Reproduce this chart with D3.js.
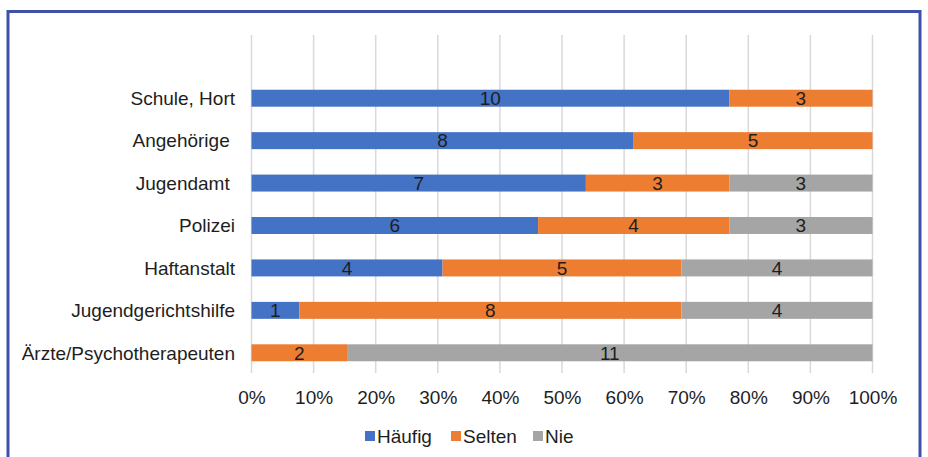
<!DOCTYPE html>
<html>
<head>
<meta charset="utf-8">
<script src="https://cdn.jsdelivr.net/npm/d3@7"></script>
<style>
  body { margin: 0; background: #fff; }
  svg text { font-family: "Liberation Sans", Arial, Helvetica, sans-serif; fill: #1e1e1e; }
</style>
</head>
<body>
<svg id="chart" width="928" height="457"></svg>
<script>
// categories, top to bottom (trailing spaces as in the original)
var categories = ['Schule, Hort', 'Angehörige ', 'Jugendamt ', 'Polizei', 'Haftanstalt', 'Jugendgerichtshilfe', 'Ärzte/Psychotherapeuten'];
var haeufig = [10, 8, 7, 6, 4, 1, 0];
var selten = [3, 5, 3, 4, 5, 8, 2];
var nie = [0, 0, 3, 3, 4, 4, 11];
var seriesNames = ['Häufig', 'Selten', 'Nie'];
var seriesColors = ['#4472c4', '#ed7d31', '#a5a5a5'];
var tickValues = [0, 0.1, 0.2, 0.3, 0.4, 0.5, 0.6, 0.7, 0.8, 0.9, 1];

var svg = d3.select('#chart');

// frame
svg.append('path')
  .attr('d', 'M8,470 L8,11.5 L920,11.5 L920,470')
  .attr('fill', 'none')
  .attr('stroke', '#3d52a6')
  .attr('stroke-width', 3);

var x = d3.scaleLinear().domain([0, 1]).range([251.5, 872.5]);
var y = d3.scaleBand().domain(categories).range([77, 374]).paddingInner(0.6).paddingOuter(0.3);

// rows for the stack
var rows = categories.map(function(c, i) {
  var total = haeufig[i] + selten[i] + nie[i];
  return { cat: c, 'Häufig': haeufig[i] / total, 'Selten': selten[i] / total, 'Nie': nie[i] / total,
           counts: [haeufig[i], selten[i], nie[i]] };
});
var stacked = d3.stack().keys(seriesNames)(rows);

// gridlines
svg.append('g')
  .selectAll('line')
  .data(tickValues)
  .join('line')
  .attr('x1', d => x(d)).attr('x2', d => x(d))
  .attr('y1', 35).attr('y2', 373)
  .attr('stroke', '#d9d9d9')
  .attr('stroke-width', 1.5);

// bars
var layers = svg.append('g')
  .selectAll('g')
  .data(stacked)
  .join('g')
  .attr('fill', (d, i) => seriesColors[i]);

layers.selectAll('rect')
  .data(d => d)
  .join('rect')
  .attr('x', d => x(d[0]))
  .attr('width', d => x(d[1]) - x(d[0]))
  .attr('y', d => y(d.data.cat))
  .attr('height', y.bandwidth());

// value labels
layers.each(function(layer, si) {
  d3.select(this).selectAll('text')
    .data(layer.filter(d => d.data.counts[si] > 0))
    .join('text')
    .attr('x', d => (x(d[0]) + x(d[1])) / 2)
    .attr('y', d => y(d.data.cat) + y.bandwidth() / 2)
    .attr('dy', '0.36em')
    .attr('text-anchor', 'middle')
    .style('font-size', '19px')
    .text(d => d.data.counts[si]);
});

// category labels
svg.append('g')
  .selectAll('text')
  .data(categories)
  .join('text')
  .attr('x', 235)
  .attr('y', d => y(d) + y.bandwidth() / 2)
  .attr('dy', '0.36em')
  .attr('text-anchor', 'end')
  .attr('xml:space', 'preserve')
  .style('white-space', 'pre')
  .style('font-size', '19px')
  .text(d => d);

// x axis
var xAxis = svg.append('g')
  .attr('transform', 'translate(0,390)')
  .call(d3.axisBottom(x).tickValues(tickValues).tickFormat(d3.format('.0%')).tickSize(0).tickPadding(0));
xAxis.select('.domain').remove();
xAxis.selectAll('text')
  .attr('fill', '#1e1e1e')
  .style('font-size', '19px')
  .style('font-family', '"Liberation Sans", Arial, sans-serif');

// legend
var legendX = [365, 451, 533];
var legend = svg.append('g')
  .selectAll('g')
  .data(seriesNames)
  .join('g')
  .attr('transform', (d, i) => 'translate(' + legendX[i] + ',436)');
legend.append('rect')
  .attr('x', 0).attr('y', -5)
  .attr('width', 10).attr('height', 10)
  .attr('fill', (d, i) => seriesColors[i]);
legend.append('text')
  .attr('x', 12)
  .attr('dy', '0.36em')
  .style('font-size', '19px')
  .text(d => d);
</script>
</body>
</html>
